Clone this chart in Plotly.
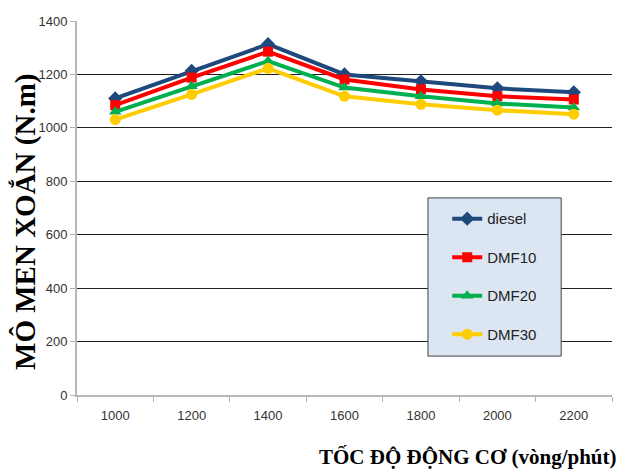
import plotly.graph_objects as go

speeds = ["1000", "1200", "1400", "1600", "1800", "2000", "2200"]
diesel = [1110, 1213, 1313, 1200, 1174, 1148, 1133]
dmf10 = [1085, 1188, 1285, 1181, 1144, 1118, 1106]
dmf20 = [1060, 1156, 1250, 1151, 1118, 1091, 1076]
dmf30 = [1031, 1125, 1223, 1118, 1088, 1066, 1051]
y_ticks = [0, 200, 400, 600, 800, 1000, 1200, 1400]

series = [
    ("diesel", diesel, "#1f497d", "diamond", 11),
    ("DMF10", dmf10, "#ff0000", "square", 10),
    ("DMF20", dmf20, "#00b050", "triangle-up", 11),
    ("DMF30", dmf30, "#ffcc00", "circle", 11),
]

fig = go.Figure()
for name, vals, col, sym, sz in series:
    fig.add_trace(go.Scatter(
        x=speeds, y=vals, name=name, legendgroup=name,
        mode="lines+markers",
        line=dict(color=col, width=4),
        marker=dict(symbol=sym, size=sz, color=col),
    ))

tickfont = dict(family="Liberation Sans Narrow, Arial Narrow, Liberation Sans", size=13, color="#333333")
titlefont = dict(family="Liberation Serif, Times New Roman, serif", size=21, color="#000000")

fig.update_layout(
    width=621, height=474,
    margin=dict(l=77, r=9, t=21, b=79),
    paper_bgcolor="white", plot_bgcolor="white",
    showlegend=True,
    legend=dict(
        x=0.692, y=0.515, xanchor="left", yanchor="top",
        bgcolor="rgba(0,0,0,0)", borderwidth=0,
        font=dict(family="Liberation Sans Narrow, Arial Narrow, Liberation Sans", size=15, color="#222222"),
        tracegroupgap=16, itemwidth=30,
    ),
    xaxis=dict(
        type="category", range=[-0.5, 6.5],
        tickson="boundaries", ticks="outside", ticklen=5, tickcolor="#b0b0b0",
        showline=True, linecolor="#b8b8b8", linewidth=2,
        showgrid=False, tickfont=tickfont, ticklabelstandoff=7,
    ),
    yaxis=dict(
        range=[0, 1400], tickvals=y_ticks,
        ticks="outside", ticklen=5, tickcolor="#b0b0b0",
        showline=True, linecolor="#b8b8b8", linewidth=2,
        showgrid=True, gridcolor="#202020", gridwidth=1, zeroline=False,
        tickfont=tickfont,
    ),
    shapes=[dict(
        type="rect", xref="paper", yref="paper",
        x0=0.656, x1=0.905, y0=0.104, y1=0.527,
        fillcolor="#dce6f2", line=dict(color="#404040", width=1), layer="above",
    )],
    annotations=[
        dict(text="<b>MÔ MEN XOẮN (N.m)</b>", xref="paper", yref="paper",
             x=-0.097, y=0.463, xanchor="center", yanchor="middle", textangle=-90,
             showarrow=False, font=dict(titlefont, size=29)),
        dict(text="<b>TỐC ĐỘ ĐỘNG CƠ (vòng/phút)</b>", xref="paper", yref="paper",
             x=1.013, y=-0.165, xanchor="right", yanchor="middle",
             showarrow=False, font=titlefont),
    ],
)

fig.write_html("out.html")
